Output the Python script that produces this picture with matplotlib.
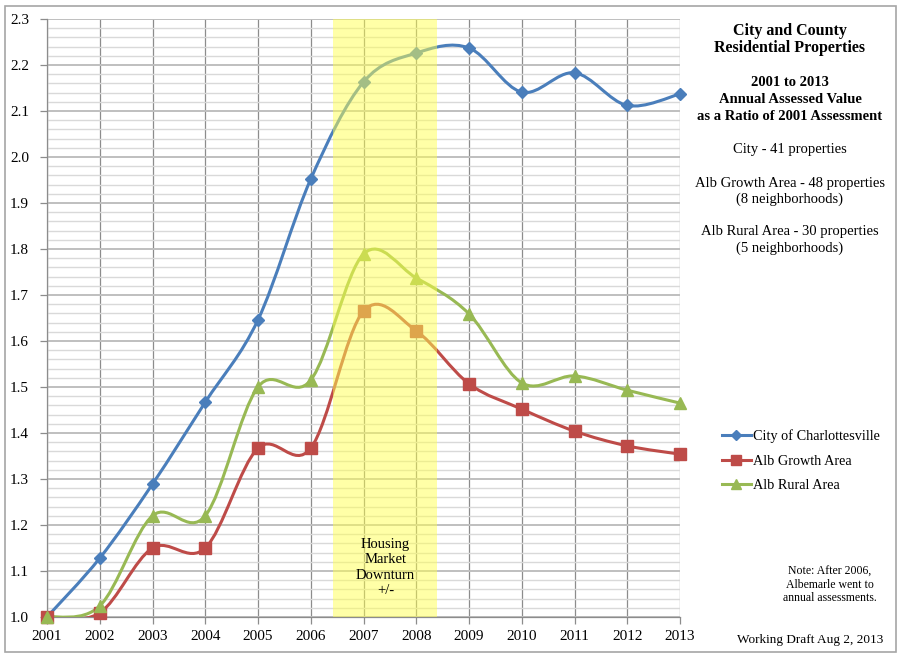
import numpy as np
import matplotlib
matplotlib.use('Agg')
import matplotlib.pyplot as plt
from matplotlib.path import Path
from matplotlib.patches import PathPatch, Rectangle
from matplotlib.lines import Line2D
from matplotlib.ticker import MultipleLocator, FormatStrFormatter

plt.rcParams['font.family'] = ['Liberation Serif', 'DejaVu Serif']

# Datos
years = [2001, 2002, 2003, 2004, 2005, 2006, 2007, 2008, 2009, 2010, 2011, 2012, 2013]
city = [1.000, 1.128, 1.289, 1.467, 1.646, 1.952, 2.163, 2.226, 2.237, 2.141, 2.183, 2.112, 2.137]
growth = [1.000, 1.009, 1.150, 1.150, 1.367, 1.367, 1.665, 1.622, 1.507, 1.452, 1.404, 1.372, 1.354]
rural = [1.000, 1.024, 1.220, 1.220, 1.500, 1.515, 1.789, 1.737, 1.659, 1.509, 1.524, 1.493, 1.465]

series_names = ['City of Charlottesville', 'Alb Growth Area', 'Alb Rural Area']
colors = ['#4A7EBB', '#BE4B48', '#98B954']
markers = ['D', 's', '^']
msizes = [6, 8, 8]

downturn = (2006.43, 2008.4)


def smooth_path(x, y):
    # curva suavizada tipo Excel (Catmull-Rom -> Bezier)
    pts = np.column_stack([x, y]).astype(float)
    n = len(pts)
    verts = [pts[0]]
    codes = [Path.MOVETO]
    for i in range(n - 1):
        p0 = pts[max(i - 1, 0)]
        p1 = pts[i]
        p2 = pts[i + 1]
        p3 = pts[min(i + 2, n - 1)]
        verts += [p1 + (p2 - p0) / 6, p2 - (p3 - p1) / 6, p2]
        codes += [Path.CURVE4] * 3
    return Path(verts, codes)


fig = plt.figure(figsize=(9, 6.56), dpi=100)
fig.patches.append(Rectangle((5 / 900, 4 / 656), 891 / 900, 646 / 656, transform=fig.transFigure,
                             fill=False, edgecolor='#a6a6a6', linewidth=1.2))
ax = fig.add_axes([47 / 900, 1 - 617 / 656, 633 / 900, 598 / 656])

ax.set_xlim(2001, 2013)
ax.set_ylim(1.0, 2.3)
ax.xaxis.set_major_locator(MultipleLocator(1))
ax.yaxis.set_major_locator(MultipleLocator(0.1))
ax.yaxis.set_minor_locator(MultipleLocator(0.02))
ax.yaxis.set_major_formatter(FormatStrFormatter('%.1f'))

ax.grid(True, axis='y', which='minor', color='#d9d9d9', linewidth=1.0, zorder=0)
ax.grid(True, axis='y', which='major', color='#bfbfbf', linewidth=1.4, zorder=0)
ax.grid(True, axis='x', which='major', color='#8c8c8c', linewidth=0.9, zorder=0)
ax.set_axisbelow(True)

for s in ['top', 'right']:
    ax.spines[s].set_visible(False)
for s in ['left', 'bottom']:
    ax.spines[s].set_color('#8c8c8c')
    ax.spines[s].set_linewidth(0.9)

ax.tick_params(axis='both', which='major', labelsize=11, color='#8c8c8c', length=5, width=0.9)
ax.tick_params(axis='y', which='minor', length=0)
ax.tick_params(axis='y', pad=8)
ax.tick_params(axis='x', pad=4)

for vals, col, mk, ms in zip([city, growth, rural], colors, markers, msizes):
    ax.add_patch(PathPatch(smooth_path(years, vals), facecolor='none', edgecolor=col,
                           linewidth=2.2, zorder=3, capstyle='round', joinstyle='round'))
    ax.plot(years, vals, linestyle='none', marker=mk, markersize=ms, color=col,
            markeredgecolor=col, zorder=4, clip_on=False)

ax.axvspan(downturn[0], downturn[1], color='#FFFF50', alpha=0.5, linewidth=0, zorder=5)
ax.text(sum(downturn) / 2, 1.108, 'Housing\nMarket\nDownturn\n+/-', ha='center', va='center',
        fontsize=10.5, linespacing=1.25, zorder=6)

handles = [Line2D([], [], color=c, marker=m, markersize=ms * 0.85, linewidth=2.2)
           for c, m, ms in zip(colors, markers, msizes)]
fig.legend(handles, series_names, loc='center left', bbox_to_anchor=(715 / 900, 1 - 461 / 656),
           frameon=False, fontsize=10.3, handlelength=2.0, handletextpad=0.15,
           labelspacing=0.8, borderpad=0)

# textos de la derecha
cx = 790 / 900
def ftext(x, y, s, **kw):
    fig.text(x, 1 - y / 656, s, ha='center', va='center', **kw)

ftext(cx, 31, 'City and County', fontsize=11.5, fontweight='bold')
ftext(cx, 48, 'Residential Properties', fontsize=11.5, fontweight='bold')
ftext(cx, 83, '2001 to 2013', fontsize=10.5, fontweight='bold')
ftext(cx, 99.5, 'Annual Assessed Value', fontsize=10.5, fontweight='bold')
ftext(cx, 116, 'as a Ratio of 2001 Assessment', fontsize=10.5, fontweight='bold')
ftext(cx, 149, 'City - 41 properties', fontsize=10.5)
ftext(cx, 183, 'Alb Growth Area - 48 properties', fontsize=10.5)
ftext(cx, 199, '(8 neighborhoods)', fontsize=10.5)
ftext(cx, 232, 'Alb Rural Area - 30 properties', fontsize=10.5)
ftext(cx, 248, '(5 neighborhoods)', fontsize=10.5)
ftext(830 / 900, 585, 'Note: After 2006,\nAlbemarle went to\nannual assessments.',
      fontsize=8.5, linespacing=1.15)
ftext(810 / 900, 640, 'Working Draft Aug 2, 2013', fontsize=9.5)

fig.savefig('out.png', dpi=100)
